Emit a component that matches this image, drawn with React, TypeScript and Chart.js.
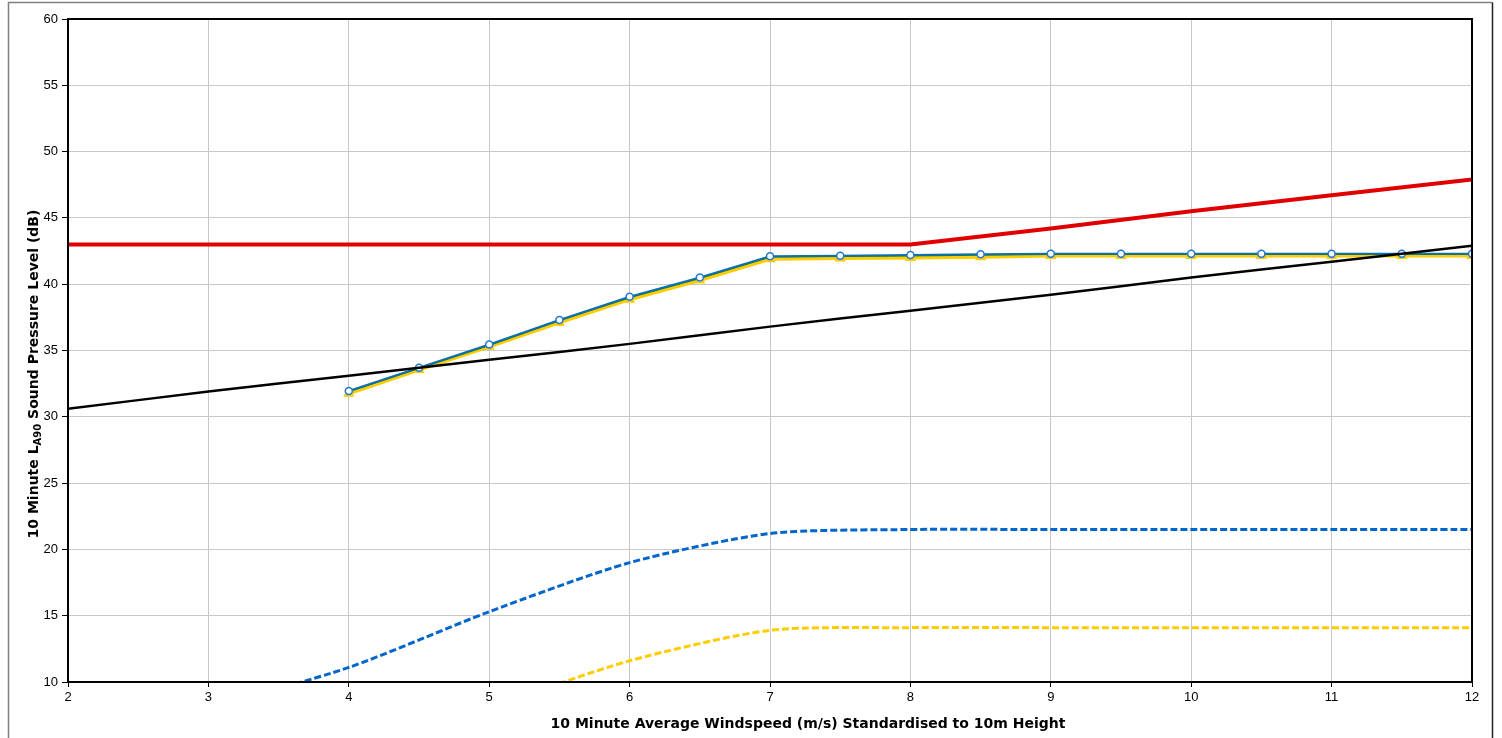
import React, { useEffect, useRef } from "react";
import { Chart, registerables } from "chart.js";

Chart.register(...registerables);

// Wind speed (m/s) at 10m height
const speedsAll = [2, 3, 4, 5, 6, 7, 8, 9, 10, 11, 12];
const speedsHalf = [4, 4.5, 5, 5.5, 6, 6.5, 7, 7.5, 8, 8.5, 9, 9.5, 10, 10.5, 11, 11.5, 12];

// Noise limit (dB)
const limitLevel = [43, 43, 43, 43, 43, 43, 43, 44.2, 45.5, 46.7, 47.9];
// Background regression curve (dB)
const backgroundLevel = [30.6, 31.9, 33.1, 34.3, 35.5, 36.8, 38.0, 39.2, 40.5, 41.7, 42.9];

// Cumulative predicted levels (dB)
const cumulativeBlue = [31.95, 33.7, 35.45, 37.3, 39.05, 40.5, 42.1, 42.15, 42.2, 42.25, 42.3, 42.3, 42.3, 42.3, 42.3, 42.3, 42.3];
const cumulativeGreen = [31.9, 33.65, 35.4, 37.25, 39.0, 40.45, 42.05, 42.1, 42.15, 42.2, 42.25, 42.25, 42.25, 42.25, 42.25, 42.25, 42.25];
const cumulativeYellow = [31.75, 33.55, 35.3, 37.1, 38.85, 40.3, 41.9, 41.95, 42.0, 42.05, 42.15, 42.15, 42.15, 42.15, 42.15, 42.15, 42.15];

// Individual development contributions (dB)
const speedsBlueDash = [3, 4, 5, 6, 7, 8, 9, 10, 11, 12];
const contributionBlue = [8.0, 11.1, 15.3, 19.0, 21.2, 21.5, 21.5, 21.5, 21.5, 21.5];
const speedsYellowDash = [4, 5, 6, 7, 8, 9, 10, 11, 12];
const contributionYellow = [5.0, 8.1, 11.6, 13.9, 14.1, 14.1, 14.1, 14.1, 14.1];

const xTitle = "10 Minute Average Windspeed (m/s) Standardised to 10m Height";
const yTitleParts = ["10 Minute L", "A90", " Sound Pressure Level (dB)"];

const pts = (xs: number[], ys: number[]) => xs.map((x, i) => ({ x, y: ys[i] }));

const TITLE_FONT = "DejaVu Sans";

const framePlugin = {
  id: "frame",
  beforeDraw(chart: any) {
    const { ctx } = chart;
    ctx.save();
    ctx.fillStyle = "#ffffff";
    ctx.fillRect(0, 0, chart.width, chart.height);
    ctx.strokeStyle = "#808080";
    ctx.lineWidth = 1.5;
    ctx.beginPath();
    ctx.moveTo(8.5, 760);
    ctx.lineTo(8.5, 2.5);
    ctx.lineTo(1492.5, 2.5);
    ctx.stroke();
    ctx.strokeStyle = "#222";
    ctx.beginPath();
    ctx.moveTo(1492.5, 2.5);
    ctx.lineTo(1492.5, 760);
    ctx.stroke();
    ctx.restore();
  },
  afterDatasetsDraw(chart: any) {
    const { ctx, chartArea } = chart;
    ctx.save();
    ctx.strokeStyle = "#000";
    ctx.lineWidth = 2;
    ctx.strokeRect(chartArea.left, chartArea.top, chartArea.right - chartArea.left, chartArea.bottom - chartArea.top);
    ctx.restore();
  },
  afterDraw(chart: any) {
    const { ctx } = chart;
    ctx.save();
    ctx.fillStyle = "#000";
    ctx.textBaseline = "middle";
    // x axis title
    ctx.font = `bold 14px "${TITLE_FONT}"`;
    ctx.textAlign = "center";
    ctx.fillText(xTitle, 808, 724);
    // y axis title with subscript
    const big = `bold 14px "${TITLE_FONT}"`;
    const small = `bold 10px "${TITLE_FONT}"`;
    ctx.font = big;
    const w0 = ctx.measureText(yTitleParts[0]).width;
    const w2 = ctx.measureText(yTitleParts[2]).width;
    ctx.font = small;
    const w1 = ctx.measureText(yTitleParts[1]).width;
    const total = w0 + w1 + w2;
    ctx.translate(34, 374);
    ctx.rotate(-Math.PI / 2);
    ctx.textAlign = "left";
    let x = -total / 2;
    ctx.font = big;
    ctx.fillText(yTitleParts[0], x, 0);
    x += w0;
    ctx.font = small;
    ctx.fillText(yTitleParts[1], x, 4);
    x += w1;
    ctx.font = big;
    ctx.fillText(yTitleParts[2], x, 0);
    ctx.restore();
  },
};

export default function App() {
  const ref = useRef<HTMLCanvasElement>(null);

  useEffect(() => {
    if (!ref.current) return;
    const chart = new Chart(ref.current, {
      type: "line",
      data: {
        datasets: [
          {
            data: pts(speedsAll, limitLevel),
            borderColor: "#e00000",
            borderWidth: 4,
            pointRadius: 0,
            tension: 0,
          },
          {
            data: pts(speedsAll, backgroundLevel),
            borderColor: "#000000",
            borderWidth: 2.5,
            pointRadius: 0,
            tension: 0.4,
          },
          {
            data: pts(speedsBlueDash, contributionBlue),
            borderColor: "#0066cc",
            borderWidth: 3,
            borderDash: [7, 3],
            pointRadius: 0,
            tension: 0.25,
          },
          {
            data: pts(speedsYellowDash, contributionYellow),
            borderColor: "#ffcc00",
            borderWidth: 3,
            borderDash: [7, 3],
            pointRadius: 0,
            tension: 0.25,
          },
          {
            data: pts(speedsHalf, cumulativeBlue),
            borderColor: "#0b6fb0",
            borderWidth: 2,
            pointStyle: "circle",
            pointRadius: 3.5,
            pointBorderWidth: 1.5,
            pointBorderColor: "#1f78d1",
            pointBackgroundColor: "#ffffff",
            tension: 0,
          },
          {
            data: pts(speedsHalf, cumulativeGreen),
            borderColor: "#1a7a2e",
            borderWidth: 1.5,
            pointRadius: 0,
            tension: 0,
          },
          {
            data: pts(speedsHalf, cumulativeYellow),
            borderColor: "#ffcc00",
            borderWidth: 3.5,
            pointStyle: "triangle",
            pointRadius: 4.5,
            pointBorderWidth: 2,
            pointBorderColor: "#ffcc00",
            pointBackgroundColor: "#ffffff",
            tension: 0,
          },
        ],
      },
      options: {
        animation: false,
        responsive: false,
        maintainAspectRatio: false,
        layout: { padding: { left: 0, right: 30, top: 19, bottom: 0 } },
        plugins: { legend: { display: false }, tooltip: { enabled: false } },
        scales: {
          x: {
            type: "linear",
            min: 2,
            max: 12,
            afterFit: (s: any) => {
              s.height = 56;
            },
            ticks: {
              stepSize: 1,
              color: "#000",
              padding: 3,
              font: { family: "Liberation Sans", size: 13 },
            },
            grid: { color: "#c8c8c8", lineWidth: 1, tickLength: 5, tickColor: "#000" },
            border: { color: "#000", width: 2 },
          },
          y: {
            type: "linear",
            min: 10,
            max: 60,
            afterFit: (s: any) => {
              s.width = 68;
            },
            ticks: {
              stepSize: 5,
              color: "#000",
              padding: 4,
              font: { family: "Liberation Sans", size: 13 },
            },
            grid: { color: "#c8c8c8", lineWidth: 1, tickLength: 6, tickColor: "#000" },
            border: { color: "#000", width: 2 },
          },
        },
      },
      plugins: [framePlugin],
    } as any);
    return () => chart.destroy();
  }, []);

  return (
    <div style={{ position: "absolute", left: 0, top: 0, width: 1502, height: 738 }}>
      <canvas ref={ref} width={1502} height={738} style={{ display: "block" }} />
    </div>
  );
}
